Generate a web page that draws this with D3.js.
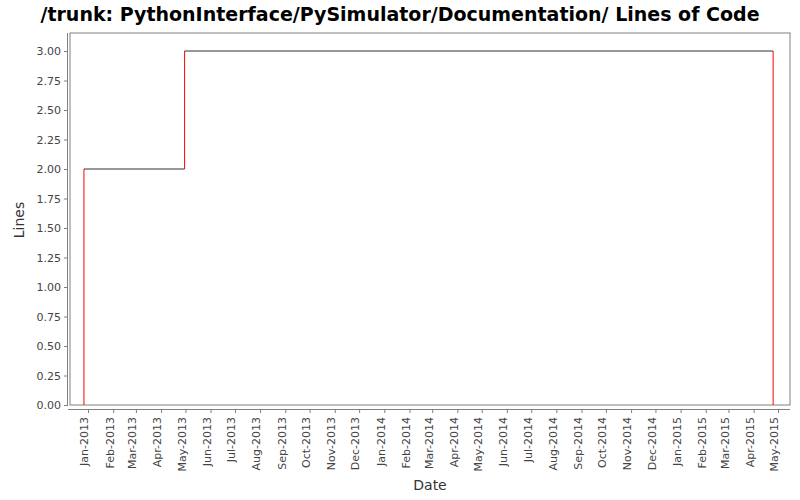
<!DOCTYPE html>
<html><head><meta charset="utf-8">
<script src="https://cdn.jsdelivr.net/npm/d3@7"></script>
<style>body{margin:0;background:#fff}</style>
</head><body>
<svg id="c" width="800" height="500"></svg>
<script>
// series: date, lines
const dates = ["2012-12-27", "2013-04-30", "2015-04-25"];
const lines = [2, 3, 3];
const yTicks = [0, 0.25, 0.5, 0.75, 1, 1.25, 1.5, 1.75, 2, 2.25, 2.5, 2.75, 3];

const parse = d3.timeParse("%Y-%m-%d");
const data = dates.map((d, i) => ({ t: parse(d), v: lines[i] }));

const svg = d3.select("#c");
const pLeft = 70, pRight = 790, pTop = 33, pBottom = 405;
const font = "'DejaVu Sans', sans-serif";

// calibrated: Jan-2013 tick at x=88, May-2015 at x=778
const base = d3.scaleTime().domain([new Date(2013, 0, 1), new Date(2015, 4, 1)]).range([88, 778]);
const x = d3.scaleTime().domain([base.invert(pLeft), base.invert(pRight)]).range([pLeft, pRight]);
const y = d3.scaleLinear().domain([0, 3]).range([405, 51]);

svg.append("text").attr("x", 400).attr("y", 21).attr("text-anchor", "middle")
  .style("font", "bold 19px " + font).text("/trunk: PythonInterface/PySimulator/Documentation/ Lines of Code");

svg.append("rect").attr("x", pLeft).attr("y", pTop).attr("width", pRight - pLeft).attr("height", pBottom - pTop)
  .attr("fill", "#fff").attr("stroke", "#808080");

const ya = svg.append("g").attr("transform", "translate(67,0)")
  .call(d3.axisLeft(y).tickValues(yTicks).tickFormat(d3.format(".2f")).tickSize(3).tickSizeOuter(0));
ya.select(".domain").attr("stroke", "#808080").attr("d", `M0.5,${pTop}V${pBottom + 1}`);
ya.selectAll(".tick line").attr("stroke", "#808080");
ya.selectAll("text").style("font", "11px " + font).attr("fill", "#444");

const xa = svg.append("g").attr("transform", "translate(0,409)")
  .call(d3.axisBottom(x).ticks(d3.timeMonth.every(1)).tickFormat(d3.timeFormat("%b-%Y")).tickSize(4).tickSizeOuter(0));
xa.select(".domain").attr("stroke", "#808080").attr("d", `M${pLeft - 2},0.5H${pRight}`);
xa.selectAll(".tick line").attr("stroke", "#808080");
xa.selectAll("text").style("font", "11px " + font).attr("fill", "#444")
  .attr("transform", "rotate(-90)").attr("text-anchor", "end").attr("x", -8).attr("y", -4).attr("dy", "0.35em");

// step line: horizontal black, vertical red
const g = svg.append("g");
let prev = 0;
data.forEach((d, i) => {
  g.append("line").attr("x1", x(d.t)).attr("x2", x(d.t)).attr("y1", y(prev)).attr("y2", y(d.v)).attr("stroke", "red");
  if (i < data.length - 1)
    g.append("line").attr("x1", x(d.t)).attr("x2", x(data[i + 1].t)).attr("y1", y(d.v)).attr("y2", y(d.v)).attr("stroke", "#333");
  prev = d.v;
});
const last = data[data.length - 1];
g.append("line").attr("x1", x(last.t)).attr("x2", x(last.t)).attr("y1", y(last.v)).attr("y2", y(0)).attr("stroke", "red");

svg.append("text").attr("x", (pLeft + pRight) / 2).attr("y", 490).attr("text-anchor", "middle")
  .style("font", "14px " + font).attr("fill", "#333").text("Date");
svg.append("text").attr("transform", "translate(24,220) rotate(-90)").attr("text-anchor", "middle")
  .style("font", "14px " + font).attr("fill", "#333").text("Lines");
</script>
</body></html>
